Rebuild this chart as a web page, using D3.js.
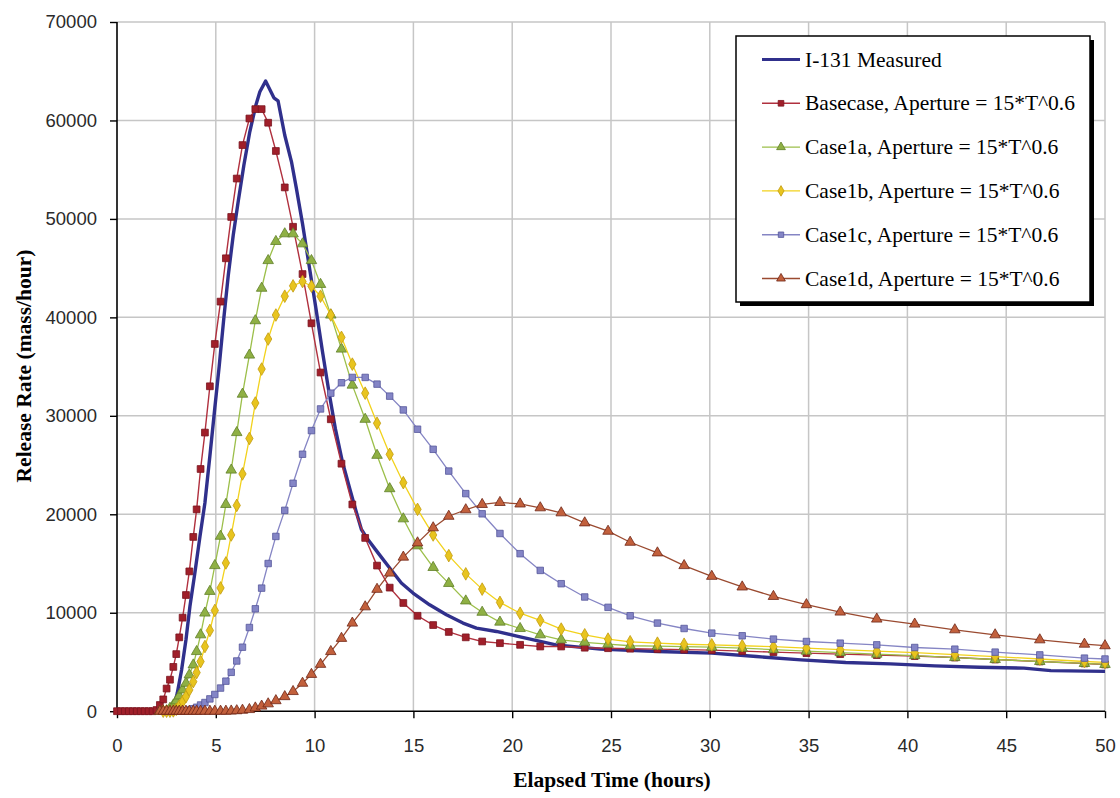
<!DOCTYPE html>
<html><head><meta charset="utf-8">
<script src="https://cdn.jsdelivr.net/npm/d3@7"></script>
<style>body{margin:0;background:#fff;} svg{display:block;}</style>
</head><body>
<svg id="chart" width="1120" height="798"></svg>
<script>
// ---------- DATA ----------
const hours = [0,0.2,0.4,0.6,0.8,1.0,1.2,1.4,1.6,1.8,
  2.0,2.17,2.34,2.51,2.68,2.85,3.0,3.15,3.32,3.49,
  3.66,3.86,4.03,4.23,4.45,4.7,4.95,5.24,5.51,5.78,
  6.06,6.35,6.7,7.0,7.32,7.65,8.04,8.49,8.91,9.39,
  9.84,10.3,10.82,11.36,11.91,12.56,13.16,13.8,14.49,15.21,
  16.0,16.79,17.65,18.48,19.38,20.4,21.42,22.48,23.67,24.85,
  25.97,27.35,28.7,30.1,31.64,33.22,34.89,36.6,38.45,40.37,
  42.4,44.44,46.7,48.96,50];

const basecase = [0,0,0,0,0,0,0,0,0,0,
  120,630,1200,2300,3200,4500,5800,7500,9500,11800,
  14200,17700,20500,24600,28300,33000,37300,41600,46000,50200,
  54100,57500,60200,61150,61150,59770,56900,53200,49200,44400,
  39400,34400,29650,25140,21000,17600,14790,12550,10990,9690,
  8750,8050,7500,7080,6910,6740,6570,6570,6450,6400,
  6350,6300,6250,6200,6100,6000,5900,5800,5700,5600,
  5450,5250,5050,4850,4750];

const case1a = [null,null,null,null,null,null,null,null,null,null,
  null,0,0,50,300,630,1050,1550,2160,2840,
  3690,4700,6060,7760,9970,12170,14790,17770,21000,24490,
  28300,32200,36170,39660,42960,45770,47710,48490,48490,47470,
  45770,43350,40240,36780,33120,29650,25990,22600,19540,16800,
  14600,12980,11200,10050,9050,8400,7760,7250,7000,6810,
  6650,6600,6550,6500,6400,6250,6100,5950,5800,5650,
  5450,5250,5050,4850,4750];

const case1b = [null,null,null,null,null,null,null,null,null,null,
  null,null,0,0,0,30,190,530,970,1480,
  2160,3000,3920,5040,6570,8200,10230,12520,15060,17900,
  20900,24100,27700,31300,34750,37800,40240,42150,43200,43640,
  43170,42150,40240,37970,35250,32300,29250,26090,23210,20500,
  17900,15800,13950,12400,11050,9950,9220,8340,7760,7320,
  7050,6910,6800,6740,6650,6550,6400,6250,6100,5950,
  5750,5550,5300,5050,4950];

const case1c = [null,null,null,null,null,null,null,null,null,null,
  null,null,null,null,null,0,0,0,20,60,
  120,250,400,630,880,1250,1700,2350,3050,3950,
  5100,6500,8500,10400,12500,15000,17750,20400,23150,26100,
  28500,30700,32300,33360,33900,33900,33220,32000,30600,28640,
  26600,24390,22100,20050,18050,16000,14300,12950,11600,10550,
  9690,8950,8400,7930,7660,7320,7080,6910,6740,6470,
  6300,6000,5720,5390,5300];

const case1d = [null,null,null,null,null,null,null,null,null,null,
  null,0,0,0,0,0,0,0,0,0,
  0,0,0,0,0,0,0,0,0,20,
  50,100,170,330,520,750,1070,1480,2000,2840,
  3740,4760,6060,7400,8950,10600,12380,14030,15650,17100,
  18630,19800,20460,21000,21200,21050,20660,20150,19130,18280,
  17160,16080,14790,13700,12620,11660,10820,10070,9360,8850,
  8270,7760,7250,6810,6650];

const measuredHours = [0,2.71,2.85,3.05,3.27,3.49,3.69,3.94,4.2,4.45,
  4.7,4.95,5.17,5.41,5.63,5.88,6.13,6.42,6.72,7.03,
  7.23,7.52,7.94,8.15,8.49,8.83,9.08,9.39,9.72,10.06,
  10.4,10.72,11.05,11.4,11.78,12.12,12.37,12.7,13.21,13.8,
  14.39,14.98,15.82,16.67,17.51,18.19,19.2,20.29,22.21,24.46,
  27.4,30.1,32.36,34.62,36.88,39.14,41.39,43.65,45.9,47.26,50];
const measuredValues = [0,0,300,1820,4200,7250,10640,14040,17770,21170,
  25920,30800,35000,40000,44250,48320,51720,55450,58850,61560,
  62920,64000,62300,62000,58500,55800,53080,49500,45300,41000,
  36500,32500,28700,25400,22600,20150,18450,17430,16080,14550,
  13020,12000,10810,9800,8950,8440,8100,7600,6740,6300,
  6060,5900,5550,5210,4940,4810,4600,4470,4370,4120,4050];

const seriesNames = ["I-131 Measured","Basecase, Aperture = 15*T^0.6","Case1a, Aperture = 15*T^0.6",
  "Case1b, Aperture = 15*T^0.6","Case1c, Aperture = 15*T^0.6","Case1d, Aperture = 15*T^0.6"];
const xTicks = [0,5,10,15,20,25,30,35,40,45,50];
const yTicks = [0,10000,20000,30000,40000,50000,60000,70000];
const xTitle = "Elapsed Time (hours)";
const yTitle = "Release Rate (mass/hour)";

// ---------- DRAW ----------
const svg = d3.select("#chart");
const x = d3.scaleLinear().domain([0,50]).range([117,1105]);
const y = d3.scaleLinear().domain([0,70000]).range([711.2,22]);

// gridlines
svg.append("g").selectAll("line").data(xTicks.filter(d=>d>0)).join("line")
  .attr("x1",d=>x(d)).attr("x2",d=>x(d)).attr("y1",y(0)).attr("y2",y(70000))
  .attr("stroke","#c6c6c6").attr("stroke-width",1.5);
svg.append("g").selectAll("line").data(yTicks.filter(d=>d>0)).join("line")
  .attr("x1",x(0)).attr("x2",x(50)).attr("y1",d=>y(d)).attr("y2",d=>y(d))
  .attr("stroke","#c6c6c6").attr("stroke-width",1.5);

// axes
const fmt = d3.format("d");
const yAxis = svg.append("g").attr("transform",`translate(${x(0)},0)`)
  .call(d3.axisLeft(y).tickValues(yTicks).tickFormat(fmt).tickSize(7).tickPadding(13));
const xAxis = svg.append("g").attr("transform",`translate(0,${y(0)})`)
  .call(d3.axisBottom(x).tickValues(xTicks).tickFormat(fmt).tickSize(7).tickPadding(21));
[yAxis,xAxis].forEach(a=>{
  a.select(".domain").attr("stroke","#000").attr("stroke-width",1.6);
  a.selectAll(".tick line").attr("stroke","#000").attr("stroke-width",1.4);
  a.selectAll("text").attr("font-family","'Liberation Sans', Arial, sans-serif")
    .attr("font-size","18.5px").attr("fill","#2a2a2a");
});
yAxis.selectAll(".domain").attr("d",`M0,${y(70000)}V${y(0)}`);
xAxis.selectAll(".domain").attr("d",`M${x(0)},0H${x(50)}`);

// titles
svg.append("text").attr("x",612).attr("y",787).attr("text-anchor","middle")
  .attr("font-family","'Liberation Serif','Times New Roman',serif").attr("font-weight","bold")
  .attr("font-size","21.5px").text(xTitle);
svg.append("text").attr("transform","translate(31,366) rotate(-90)").attr("text-anchor","middle")
  .attr("font-family","'Liberation Serif','Times New Roman',serif").attr("font-weight","bold")
  .attr("font-size","21.5px").text(yTitle);

// series styles
const styles = [
  {line:"#30308c", width:3.4, marker:null},
  {line:"#b0303e", width:1.4, marker:"square", fill:"#a01f2a", stroke:"#7a1520", size:46},
  {line:"#9cbf4a", width:1.3, marker:"triangle", fill:"#8fb044", stroke:"#5f7f28", size:48},
  {line:"#f2d21c", width:1.3, marker:"diamond", fill:"#e8c41e", stroke:"#c29a10", size:46},
  {line:"#8585c4", width:1.3, marker:"square", fill:"#8485c6", stroke:"#55579a", size:42},
  {line:"#9a4a30", width:1.3, marker:"triangle", fill:"#c2603c", stroke:"#6e2616", size:48}
];
const symType = {square:d3.symbolSquare, triangle:d3.symbolTriangle, diamond:d3.symbolDiamond};

const line = d3.line().defined(d=>d[1]!=null).x(d=>x(d[0])).y(d=>y(d[1]));

// measured
const measured = measuredHours.map((h,i)=>[h,measuredValues[i]]);
svg.append("path").datum(measured).attr("d",line).attr("fill","none")
  .attr("stroke",styles[0].line).attr("stroke-width",styles[0].width).attr("stroke-linejoin","round");

const simSeries = [basecase,case1a,case1b,case1c,case1d];
simSeries.forEach((vals,k)=>{
  const st = styles[k+1];
  const pts = hours.map((h,i)=>[h,vals[i]]);
  svg.append("path").datum(pts).attr("d",line).attr("fill","none")
    .attr("stroke",st.line).attr("stroke-width",st.width);
  svg.append("g").selectAll("path").data(pts.filter(d=>d[1]!=null)).join("path")
    .attr("transform",d=>`translate(${x(d[0])},${y(d[1])})`)
    .attr("d",d3.symbol().type(symType[st.marker]).size(st.size))
    .attr("fill",st.fill).attr("stroke",st.stroke).attr("stroke-width",0.8);
});

// legend
const lg = svg.append("g");
lg.append("rect").attr("x",740).attr("y",40).attr("width",354).attr("height",266).attr("fill","#000");
lg.append("rect").attr("x",736).attr("y",36).attr("width",354).attr("height",266)
  .attr("fill","#fff").attr("stroke","#000").attr("stroke-width",1.5);
seriesNames.forEach((name,i)=>{
  const yy = 59.5 + i*43.8;
  const st = styles[i];
  lg.append("line").attr("x1",762).attr("x2",800).attr("y1",yy).attr("y2",yy)
    .attr("stroke",st.line).attr("stroke-width",i===0?3:1.4);
  if(st.marker){
    lg.append("path").attr("transform",`translate(781,${yy})`)
      .attr("d",d3.symbol().type(symType[st.marker]).size(st.size*0.7))
      .attr("fill",st.fill).attr("stroke",st.stroke).attr("stroke-width",0.8);
  }
  lg.append("text").attr("x",805).attr("y",yy+7)
    .attr("font-family","'Liberation Serif','Times New Roman',serif").attr("font-size","21.5px")
    .attr("fill","#000").text(name);
});
</script>
</body></html>
